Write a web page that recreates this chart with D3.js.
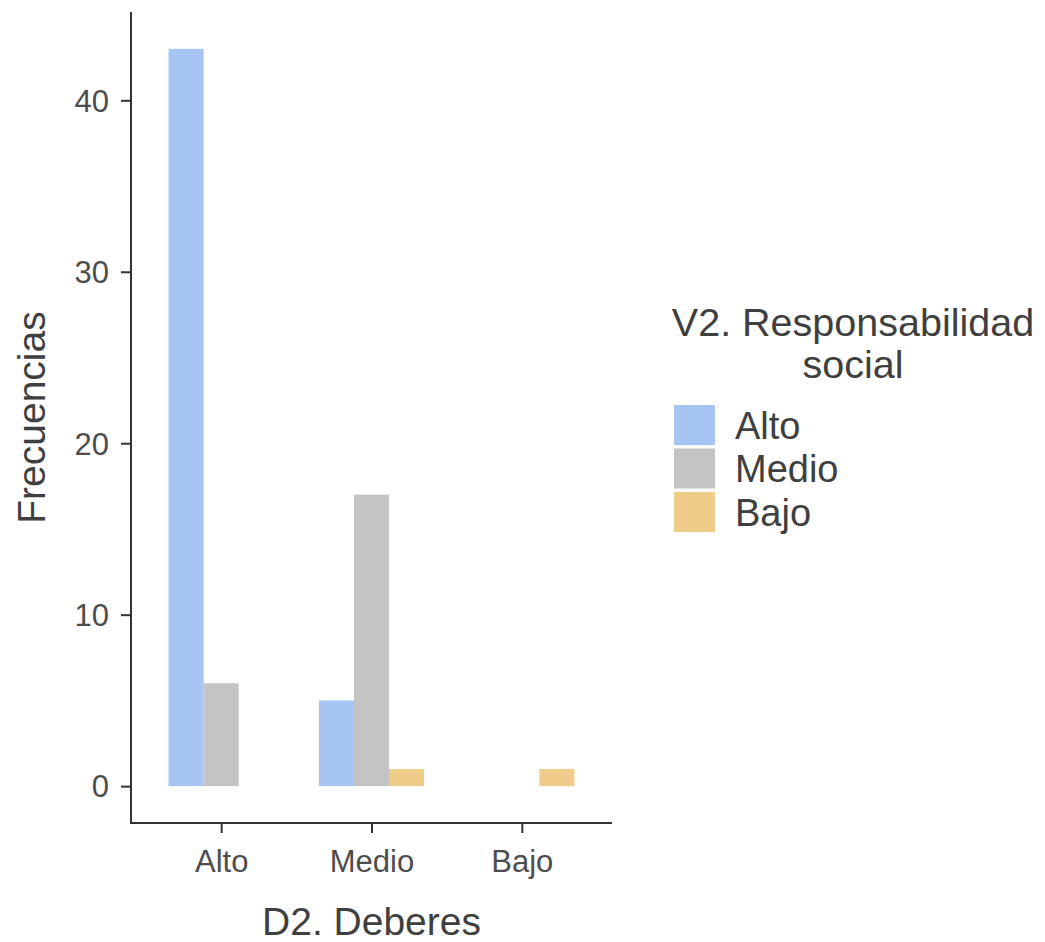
<!DOCTYPE html>
<html><head><meta charset="utf-8">
<script src="https://cdn.jsdelivr.net/npm/d3@7"></script>
<style>
body{margin:0;background:#fff;}
text{font-family:"Liberation Sans",Arial,Helvetica,sans-serif;}
</style></head>
<body><svg id="chart" width="1045" height="942"></svg>
<script>
const categories = ["Alto","Medio","Bajo"];
const seriesNames = ["Alto","Medio","Bajo"];
const valuesAlto = [43, 5, 0];
const valuesMedio = [6, 17, 0];
const valuesBajo = [0, 1, 1];
const yTicks = [0, 10, 20, 30, 40];
const colors = ["#A6C5F2", "#C4C4C4", "#F0CC8A"];
const xTitle = "D2. Deberes";
const yTitle = "Frecuencias";
const legendTitle = ["V2. Responsabilidad", "social"];

(function(){
const seriesValues = [valuesAlto, valuesMedio, valuesBajo];
const svg = d3.select("#chart");
const pLeft = 131, pRight = 612, pTop = 12, pBottom = 823;
const titleCol = "#3f3f3f";

const maxV = d3.max(seriesValues.flat());
const y = d3.scaleLinear().domain([-maxV*0.05, maxV*1.05]).range([pBottom, pTop]);
const x = d3.scalePoint().domain(categories).range([pLeft, pRight]).padding(0.6);
const unit = x.step();
const groupW = unit * 0.7;
const xs = d3.scaleBand().domain(seriesNames).range([-groupW/2, groupW/2]).padding(0);

const data = [];
categories.forEach((c, i) => seriesNames.forEach((s, j) => data.push({c, s, v: seriesValues[j][i], j})));
svg.append("g").selectAll("rect").data(data.filter(d => d.v > 0)).join("rect")
  .attr("x", d => x(d.c) + xs(d.s))
  .attr("width", xs.bandwidth())
  .attr("y", d => y(d.v))
  .attr("height", d => y(0) - y(d.v))
  .attr("fill", d => colors[d.j]);

const yAxis = d3.axisLeft(y).tickValues(yTicks).tickSize(10).tickPadding(12);
const gy = svg.append("g").attr("transform", `translate(${pLeft},0)`).call(yAxis);
gy.select(".domain").remove();
gy.selectAll(".tick line").attr("stroke", "#333").attr("stroke-width", 2);
gy.selectAll(".tick text").attr("fill", "#4d4d4d").style("font-size", "31px")
  .style("font-family", '"Liberation Sans",Arial,sans-serif').attr("dy", "0.35em");
svg.append("line").attr("x1", pLeft).attr("x2", pLeft).attr("y1", pTop).attr("y2", pBottom+1)
  .attr("stroke", "#333").attr("stroke-width", 2);

const xAxis = d3.axisBottom(x).tickSize(10).tickPadding(10);
const gx = svg.append("g").attr("transform", `translate(0,${pBottom})`).call(xAxis);
gx.select(".domain").remove();
gx.selectAll(".tick line").attr("stroke", "#333").attr("stroke-width", 2);
gx.selectAll(".tick text").attr("fill", "#4d4d4d").style("font-size", "31px")
  .style("font-family", '"Liberation Sans",Arial,sans-serif').attr("dy", null).attr("y", 49);
svg.append("line").attr("x1", pLeft-1).attr("x2", pRight).attr("y1", pBottom).attr("y2", pBottom)
  .attr("stroke", "#333").attr("stroke-width", 2);

svg.append("text").attr("x", (pLeft+pRight)/2).attr("y", 935).attr("text-anchor", "middle")
  .attr("fill", titleCol).style("font-size", "39px").text(xTitle);
svg.append("text").attr("transform", `translate(45,${(pTop+pBottom)/2}) rotate(-90)`)
  .attr("text-anchor", "middle").attr("fill", titleCol).style("font-size", "39px").text(yTitle);

const lg = svg.append("g");
lg.selectAll("text.title").data(legendTitle).join("text").attr("class","title")
  .attr("x", 853).attr("y", (d,i) => 336 + i*42).attr("text-anchor", "middle")
  .attr("fill", titleCol).style("font-size", "39.5px").text(d => d);
const keyY = d3.scalePoint().domain(seriesNames).range([425, 512]);
lg.selectAll("rect").data(seriesNames).join("rect")
  .attr("x", 674).attr("y", d => keyY(d) - 20).attr("width", 41).attr("height", 40)
  .attr("fill", (d,i) => colors[i]);
lg.selectAll("text.lab").data(seriesNames).join("text").attr("class","lab")
  .attr("x", 735).attr("y", d => keyY(d)).attr("dy", "0.36em")
  .attr("fill", titleCol).style("font-size", "38px").text(d => d);
})();
</script></body></html>
